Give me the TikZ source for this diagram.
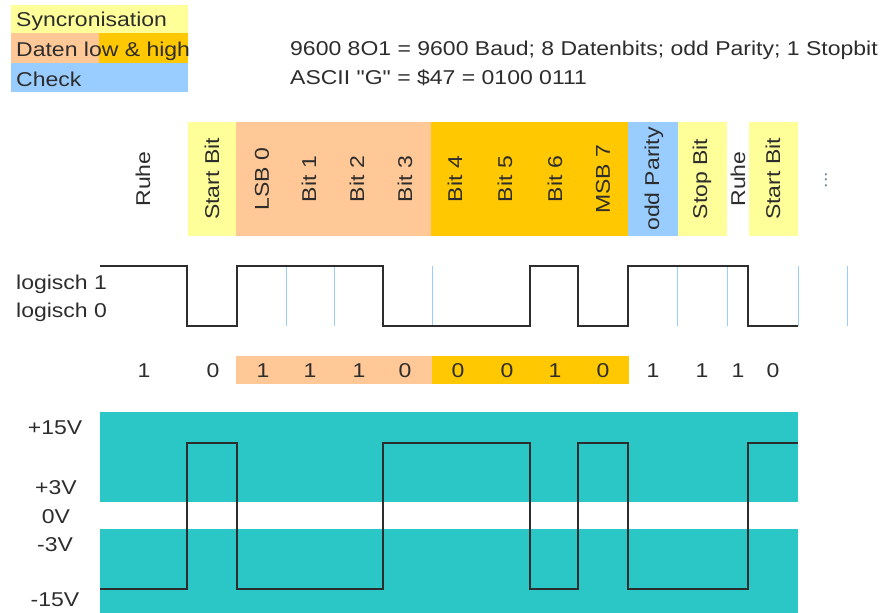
\documentclass[tikz,border=0pt]{standalone}
\usepackage{fontspec}
\setmainfont[FakeStretch=1.15, Ligatures=TeXOff]{Liberation Sans}
\usepackage{tikz}
\usetikzlibrary{positioning}
\usepackage{xcolor}
\definecolor{syncY}{RGB}{255,255,153}
\definecolor{datLow}{RGB}{255,200,150}
\definecolor{datHigh}{RGB}{255,200,0}
\definecolor{chk}{RGB}{153,204,255}
\definecolor{band}{RGB}{43,198,198}
\definecolor{ink}{RGB}{45,45,45}

\begin{document}
\begin{tikzpicture}[x=1pt, y=-1pt, font=\fontsize{20}{24}\selectfont, text=ink,
  sig/.style={draw=ink, line width=1.8pt, line join=miter},
  tick/.style={draw=chk, line width=1pt},
  hdr/.style={rotate=90, anchor=center, inner sep=0pt},
  lbl/.style={anchor=west, inner sep=0pt}]
  \useasboundingbox (0,0) rectangle (887,613);
  % legend
  \fill[syncY] (11,5) rectangle (188,33);
  \fill[datLow] (11,33) rectangle (99,63);
  \fill[datHigh] (99,33) rectangle (188,63);
  \fill[chk] (11,63) rectangle (188,92);
  \node[lbl] (sync) at (16,21) {Syncronisation};
  \node[lbl] (daten) at (16,51) {Daten low \& high};
  \node[lbl] (check) at (16,79) {Check};
  \node[lbl] (fmt) at (290,50) {9600 8O1 = 9600 Baud; 8 Datenbits; odd Parity; 1 Stopbit};
  \node[lbl] (ascii) at (290,78) {ASCII "G" = \$47 = 0100 0111};

  % frame columns
  \fill[syncY] (188,122) rectangle (236,236);
  \fill[datLow] (236,122) rectangle (431,236);
  \fill[datHigh] (431,122) rectangle (628,236);
  \fill[chk] (628,122) rectangle (678,236);
  \fill[syncY] (678,122) rectangle (727,236);
  \fill[syncY] (749,122) rectangle (798,236);
  \foreach \x/\t in {143/Ruhe, 212/Start Bit, 262/LSB 0, 309/Bit 1, 357/Bit 2,
      405/Bit 3, 455/Bit 4, 505/Bit 5, 555/Bit 6, 603/MSB 7, 654/odd Parity,
      702/Stop Bit, 738/Ruhe, 773/Start Bit}
    \node[hdr] (h\x) at (\x,179) {\t};
  \node[hdr, font=\fontsize{17}{18}\selectfont, text=chk!50!ink] (more) at (826,180) {...};

  % logic level
  \node[lbl] (l1) at (16,284) {logisch 1};
  \node[lbl] (l0) at (16,312) {logisch 0};
  \foreach \x in {286,334,432,677,727,798,847}
    \draw[tick] (\x,266) -- (\x,326);
  \draw[sig] (100,266) -- (187,266) -- (187,326) -- (237,326) -- (237,266)
    -- (383,266) -- (383,326) -- (530,326) -- (530,266) -- (578,266)
    -- (578,326) -- (628,326) -- (628,266) -- (748,266) -- (748,326) -- (798,326);

  % bit values
  \fill[datLow] (236,356) rectangle (432,384);
  \fill[datHigh] (432,356) rectangle (629,384);
  \foreach \x/\b in {144/1, 213/0, 263/1, 310/1, 359/1, 405/0, 458/0, 507/0,
      555/1, 603/0, 653/1, 702/1, 738/1, 773/0}
    \node (v\x) at (\x,371) {\b};

  % RS232 voltage levels
  \fill[band] (100,412) rectangle (798,502);
  \fill[band] (100,529) rectangle (798,613);
  \node (p15) at (55,428) {+15V};
  \node (p3) at (56,488) {+3V};
  \node (z0) at (56,517) {0V};
  \node (m3) at (55,545) {-3V};
  \node (m15) at (55,600) {-15V};
  \draw[sig, line width=1.5pt] (100,589) -- (187,589) -- (187,443) -- (237,443) -- (237,589)
    -- (383,589) -- (383,443) -- (530,443) -- (530,589) -- (578,589)
    -- (578,443) -- (628,443) -- (628,589) -- (748,589) -- (748,443) -- (798,443);
\end{tikzpicture}
\end{document}
